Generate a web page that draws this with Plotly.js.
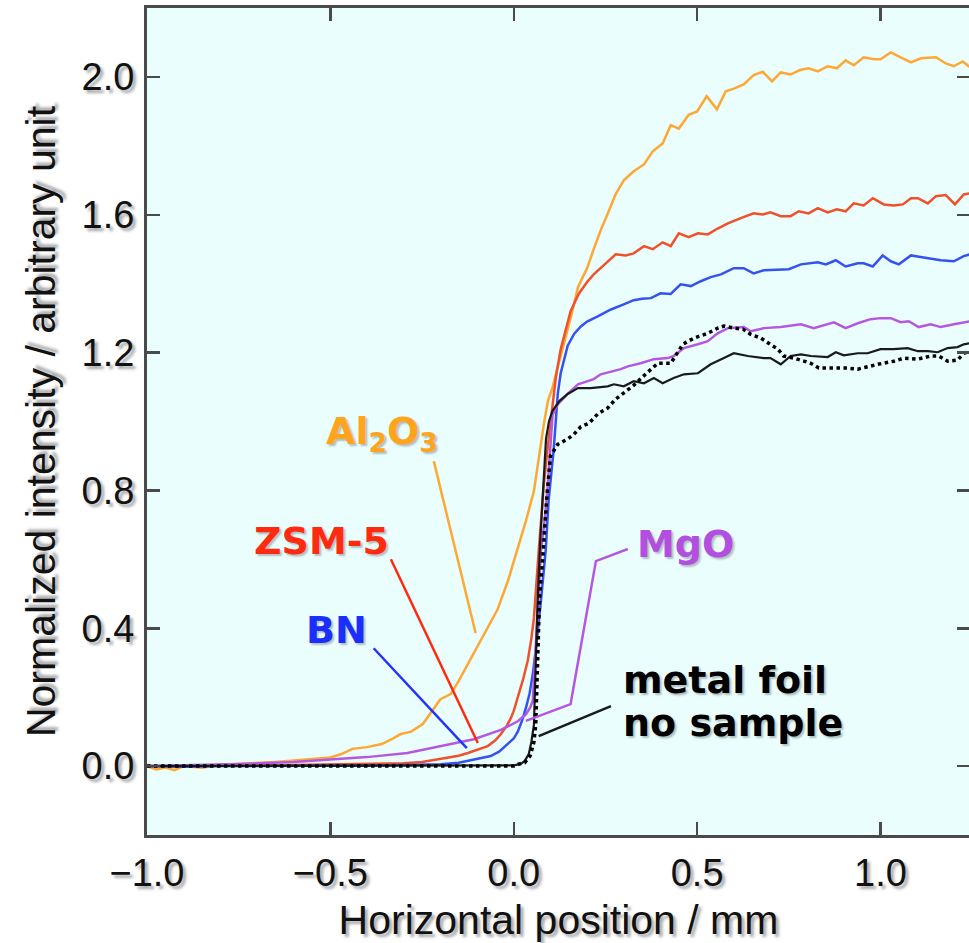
<!DOCTYPE html>
<html>
<head>
<meta charset="utf-8">
<script src="https://cdn.plot.ly/plotly-3.0.1.min.js"></script>
<style>
html,body{margin:0;padding:0;overflow:hidden;background:#fff;}
#plot{width:975px;height:943px;}
</style>
</head>
<body>
<div id="plot"></div>
<script>
// Al2O3
const xAl = [-1.0,-0.975,-0.95,-0.925,-0.9,-0.85,-0.8,-0.75,-0.7,-0.65,-0.6,-0.55,-0.5,-0.47,-0.44,-0.4,-0.36,-0.33,-0.308,-0.28,-0.248,-0.2,-0.172,-0.15,-0.125,-0.095,-0.071,-0.044,-0.016,0.014,0.033,0.055,0.068,0.082,0.093,0.106,0.123,0.136,0.155,0.175,0.2,0.218,0.237,0.255,0.278,0.3,0.327,0.355,0.379,0.406,0.428,0.45,0.477,0.5,0.526,0.554,0.578,0.6,0.627,0.654,0.679,0.704,0.728,0.755,0.78,0.804,0.829,0.856,0.881,0.905,0.927,0.954,0.982,1.0,1.028,1.055,1.083,1.11,1.13,1.151,1.178,1.2,1.224,1.244];
const yAl = [0.0,-0.01,-0.004,-0.012,0.0,-0.005,0.004,0.006,0.008,0.012,0.016,0.02,0.025,0.035,0.05,0.055,0.064,0.08,0.093,0.10,0.122,0.194,0.209,0.247,0.296,0.354,0.40,0.455,0.537,0.644,0.711,0.798,0.894,0.992,1.059,1.10,1.17,1.22,1.30,1.39,1.445,1.50,1.555,1.60,1.66,1.70,1.726,1.746,1.784,1.807,1.86,1.85,1.89,1.90,1.944,1.906,1.958,1.966,1.978,2.005,2.015,1.987,2.013,2.007,2.02,2.025,2.016,2.031,2.025,2.048,2.034,2.057,2.051,2.051,2.071,2.057,2.042,2.054,2.056,2.057,2.039,2.031,2.045,2.028];
// ZSM-5
const xZSM = [-1.0,-0.9,-0.8,-0.7,-0.6,-0.5,-0.4,-0.3,-0.25,-0.2,-0.15,-0.125,-0.1,-0.071,-0.05,-0.035,-0.02,-0.008,0.0,0.014,0.025,0.038,0.048,0.055,0.062,0.068,0.075,0.082,0.093,0.101,0.115,0.128,0.155,0.177,0.2,0.218,0.256,0.278,0.305,0.327,0.355,0.379,0.406,0.428,0.45,0.477,0.502,0.529,0.556,0.584,0.619,0.654,0.679,0.70,0.728,0.755,0.777,0.804,0.829,0.856,0.881,0.905,0.927,0.954,0.979,1.009,1.036,1.061,1.083,1.102,1.129,1.151,1.178,1.203,1.227,1.244];
const yZSM = [0.0,0.0,0.002,0.002,0.003,0.004,0.006,0.008,0.012,0.02,0.03,0.038,0.048,0.058,0.075,0.093,0.115,0.139,0.16,0.209,0.25,0.305,0.37,0.43,0.52,0.624,0.72,0.818,0.93,1.0,1.13,1.21,1.32,1.37,1.405,1.427,1.465,1.485,1.482,1.488,1.509,1.50,1.52,1.509,1.546,1.535,1.546,1.543,1.56,1.575,1.59,1.604,1.601,1.607,1.596,1.596,1.61,1.604,1.619,1.607,1.616,1.61,1.633,1.627,1.648,1.63,1.627,1.63,1.648,1.648,1.633,1.654,1.657,1.63,1.659,1.662];
// BN
const xBN = [-1.0,-0.9,-0.8,-0.7,-0.6,-0.5,-0.4,-0.3,-0.2,-0.15,-0.125,-0.1,-0.063,-0.04,-0.016,0.0,0.011,0.022,0.033,0.043,0.052,0.06,0.065,0.074,0.087,0.095,0.102,0.109,0.12,0.128,0.147,0.165,0.183,0.2,0.229,0.265,0.3,0.327,0.35,0.374,0.4,0.428,0.455,0.483,0.51,0.537,0.565,0.6,0.627,0.654,0.682,0.715,0.75,0.783,0.805,0.829,0.851,0.878,0.905,0.938,0.954,0.979,1.006,1.028,1.05,1.083,1.105,1.129,1.164,1.2,1.227,1.244];
const yBN = [0.0,-0.002,0.0,0.0,0.0,0.001,0.002,0.003,0.005,0.01,0.015,0.02,0.029,0.042,0.064,0.08,0.10,0.13,0.168,0.21,0.267,0.33,0.383,0.479,0.624,0.77,0.85,0.92,1.08,1.14,1.22,1.255,1.276,1.29,1.305,1.325,1.34,1.352,1.356,1.358,1.372,1.37,1.398,1.393,1.407,1.419,1.427,1.445,1.445,1.43,1.439,1.44,1.442,1.456,1.458,1.462,1.456,1.468,1.45,1.459,1.459,1.45,1.482,1.465,1.456,1.482,1.478,1.474,1.468,1.465,1.48,1.485];
// MgO
const xMgO = [-1.0,-0.9,-0.8,-0.745,-0.6,-0.472,-0.4,-0.29,-0.2,-0.153,-0.109,-0.035,0.011,0.033,0.045,0.052,0.06,0.067,0.074,0.085,0.093,0.1,0.106,0.12,0.147,0.175,0.218,0.237,0.273,0.292,0.311,0.346,0.382,0.42,0.436,0.464,0.502,0.529,0.556,0.584,0.6,0.627,0.646,0.682,0.728,0.783,0.818,0.873,0.905,0.938,0.973,1.0,1.028,1.055,1.077,1.104,1.137,1.164,1.2,1.244];
const yMgO = [0.0,0.002,0.004,0.006,0.012,0.02,0.026,0.038,0.058,0.067,0.078,0.105,0.13,0.15,0.17,0.19,0.35,0.5,0.624,0.72,0.818,0.93,1.02,1.05,1.08,1.108,1.123,1.137,1.146,1.152,1.16,1.169,1.181,1.184,1.19,1.213,1.224,1.233,1.256,1.271,1.272,1.274,1.262,1.271,1.274,1.282,1.271,1.288,1.271,1.285,1.297,1.3,1.30,1.288,1.291,1.274,1.282,1.274,1.282,1.291];
// metal foil (solid black)
const xFoil = [-1.0,-0.8,-0.6,-0.4,-0.2,0.0,0.019,0.03,0.041,0.048,0.055,0.06,0.065,0.072,0.08,0.088,0.096,0.105,0.115,0.125,0.147,0.175,0.21,0.256,0.273,0.3,0.327,0.355,0.382,0.406,0.436,0.464,0.502,0.537,0.573,0.6,0.638,0.682,0.7,0.728,0.755,0.783,0.81,0.856,0.878,0.9,0.938,0.965,1.0,1.036,1.074,1.102,1.129,1.156,1.183,1.21,1.227,1.244];
const yFoil = [0.0,0.0,0.0,0.0,0.0,0.002,0.006,0.015,0.035,0.07,0.12,0.3,0.48,0.65,0.82,0.95,1.0,1.03,1.045,1.06,1.08,1.097,1.097,1.102,1.108,1.102,1.117,1.111,1.126,1.111,1.126,1.137,1.14,1.166,1.184,1.198,1.19,1.184,1.184,1.166,1.19,1.195,1.19,1.187,1.201,1.192,1.198,1.198,1.21,1.21,1.213,1.204,1.204,1.201,1.213,1.216,1.224,1.227];
// no sample (dotted black)
const xNone = [-1.0,-0.8,-0.6,-0.4,-0.2,0.0,0.011,0.03,0.045,0.055,0.06,0.064,0.07,0.08,0.09,0.1,0.109,0.12,0.147,0.164,0.183,0.205,0.229,0.256,0.278,0.305,0.327,0.365,0.393,0.428,0.461,0.491,0.529,0.556,0.573,0.6,0.625,0.646,0.674,0.695,0.72,0.736,0.764,0.81,0.832,0.864,0.91,0.938,0.965,0.993,1.036,1.064,1.102,1.137,1.159,1.183,1.21,1.227,1.244];
const yNone = [0,0,0,0,0,0,0.005,0.01,0.03,0.07,0.12,0.3,0.48,0.62,0.78,0.9,0.914,0.934,0.949,0.963,0.985,0.995,1.022,1.039,1.065,1.088,1.105,1.143,1.169,1.169,1.224,1.242,1.256,1.271,1.277,1.271,1.268,1.253,1.242,1.227,1.21,1.19,1.184,1.169,1.155,1.155,1.155,1.152,1.16,1.166,1.175,1.184,1.181,1.19,1.19,1.175,1.178,1.198,1.204];

const xTicks = [-1.0,-0.5,0.0,0.5,1.0];
const xTickText = ['\u22121.0','\u22120.5','0.0','0.5','1.0'];
const yTicks = [0.0,0.4,0.8,1.2,1.6,2.0];
const yTickText = ['0.0','0.4','0.8','1.2','1.6','2.0'];

const cAl = '#ffa733', cZSM = '#f0502a', cBN = '#3452f0', cMgO = '#b458e2', cBlk = '#1a1a1a';

const traces = [
  {x:xAl, y:yAl, mode:'lines', line:{color:cAl, width:2.5}},
  {x:xZSM, y:yZSM, mode:'lines', line:{color:cZSM, width:2.5}},
  {x:xBN, y:yBN, mode:'lines', line:{color:cBN, width:2.5}},
  {x:xMgO, y:yMgO, mode:'lines', line:{color:cMgO, width:2.5}},
  {x:xFoil, y:yFoil, mode:'lines', line:{color:cBlk, width:2.2}},
  {x:xNone, y:yNone, mode:'lines', line:{color:'#000', width:3.5, dash:'dot'}}
];

const shadow = '3px 3px 3px rgba(0,0,0,0.35)';
const tickFont = {family:'Liberation Sans, Arial, sans-serif', size:38, color:'#111', shadow:shadow};
const titleFont = {family:'Liberation Sans, Arial, sans-serif', size:41, color:'#111', shadow:shadow};
const annFont = (c) => ({family:'DejaVu Sans, Verdana, sans-serif', size:38, color:c, weight:'bold', shadow:'2px 2px 2px rgba(0,0,0,0.25)'});

const line = (x0,y0,x1,y1,c) => ({type:'line', xref:'x', yref:'y', x0:x0, y0:y0, x1:x1, y1:y1, line:{color:c, width:2.5}});

const layout = {
  width:975, height:943,
  margin:{l:147, r:5, t:8, b:108},
  paper_bgcolor:'#ffffff',
  plot_bgcolor:'#eafefe',
  showlegend:false,
  xaxis:{
    range:[-1.0,1.244], tickvals:xTicks, ticktext:xTickText,
    ticks:'inside', ticklen:13, tickwidth:2.5, tickcolor:'#4a4a4a',
    showline:true, linewidth:3, linecolor:'#4a4a4a', mirror:'ticks',
    showgrid:false, zeroline:false, tickfont:tickFont, ticklabelstandoff:2,
    title:{text:'Horizontal position / mm', font:titleFont, standoff:14}
  },
  yaxis:{
    range:[-0.2,2.2], tickvals:yTicks, ticktext:yTickText,
    ticks:'inside', ticklen:13, tickwidth:2.5, tickcolor:'#4a4a4a',
    showline:true, linewidth:3, linecolor:'#4a4a4a', mirror:'ticks',
    showgrid:false, zeroline:false, tickfont:tickFont, ticklabelstandoff:2,
    title:{text:'Normalized intensity / arbitrary unit', font:titleFont, standoff:14}
  },
  shapes:[
    line(-0.218,0.885,-0.104,0.386,cAl),
    line(-0.335,0.60,-0.098,0.067,'#ff2a10'),
    line(-0.382,0.342,-0.128,0.052,'#2233ff'),
    {type:'path', xref:'x', yref:'y', path:'M 0.311,0.63 L 0.224,0.595 L 0.155,0.18 L 0.033,0.131', line:{color:cMgO, width:2.5}},
    line(0.265,0.174,0.068,0.087,cBlk)
  ],
  annotations:[
    {x:-0.36, y:0.966, xref:'x', yref:'y', text:'Al<sub>2</sub>O<sub>3</sub>', showarrow:false, font:annFont('#ffa41c'), xanchor:'center', yanchor:'middle'},
    {x:-0.524, y:0.653, xref:'x', yref:'y', text:'ZSM-5', showarrow:false, font:annFont('#ff2a10'), xanchor:'center', yanchor:'middle'},
    {x:-0.483, y:0.395, xref:'x', yref:'y', text:'BN', showarrow:false, font:annFont('#1a2eff'), xanchor:'center', yanchor:'middle'},
    {x:0.469, y:0.645, xref:'x', yref:'y', text:'MgO', showarrow:false, font:annFont('#b34fe0'), xanchor:'center', yanchor:'middle'},
    {x:0.292, y:0.25, xref:'x', yref:'y', text:'metal foil', showarrow:false, font:annFont('#000'), xanchor:'left', yanchor:'middle'},
    {x:0.292, y:0.125, xref:'x', yref:'y', text:'no sample', showarrow:false, font:annFont('#000'), xanchor:'left', yanchor:'middle'}
  ]
};

Plotly.newPlot('plot', traces, layout, {displayModeBar:false, staticPlot:true});
</script>
</body>
</html>
